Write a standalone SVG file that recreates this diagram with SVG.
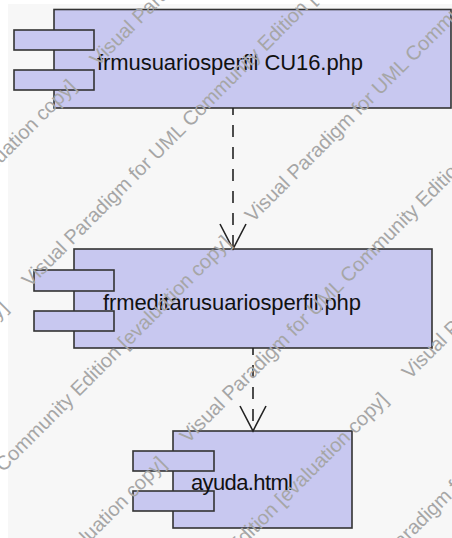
<svg xmlns="http://www.w3.org/2000/svg" width="452" height="538" viewBox="0 0 452 538">
<style>
.bg{fill:#f7f7f7}
.body{fill:#c8c8f0;stroke:#333;stroke-width:1.6}
.lbl{font-family:"Liberation Sans",Arial,sans-serif;font-size:22px;fill:#111}
.dep{fill:none;stroke:#222;stroke-width:1.6;stroke-dasharray:12 10;stroke-dashoffset:5}
.head{fill:none;stroke:#222;stroke-width:1.6}
.wm{font-family:"Liberation Sans",Arial,sans-serif;font-size:20px;fill:#a6a6a6}
</style>
<rect x="0" y="0" width="452" height="538" fill="#ffffff"/>
<rect class="bg" x="8" y="4" width="444" height="534"/>
<g id="node-frmusuariosperfil">
<rect class="body" x="54" y="9.5" width="397" height="98.5"/>
<rect class="body" x="14" y="30" width="80" height="20"/>
<rect class="body" x="14" y="70" width="80" height="20"/>
<text class="lbl" x="97" y="70" textLength="266" lengthAdjust="spacing">frmusuariosperfil CU16.php</text>
</g>
<g id="node-frmeditarusuariosperfil">
<rect class="body" x="74" y="249" width="358" height="99"/>
<rect class="body" x="34" y="270" width="80" height="21"/>
<rect class="body" x="34" y="311" width="80" height="20"/>
<text class="lbl" x="103" y="309.5" textLength="258" lengthAdjust="spacing">frmeditarusuariosperfil.php</text>
</g>
<g id="node-ayuda">
<rect class="body" x="173" y="431" width="179" height="97"/>
<rect class="body" x="133" y="451" width="81" height="20"/>
<rect class="body" x="133" y="491" width="81" height="20"/>
<text class="lbl" x="191" y="489.5" textLength="102" lengthAdjust="spacing">ayuda.html</text>
</g>
<g id="connectors">
<line class="dep" x1="233" y1="108" x2="233" y2="248"/>
<polyline class="head" points="220,224 233,249 246,224"/>
<line class="dep" x1="253" y1="348" x2="253" y2="430"/>
<polyline class="head" points="240,406 253,431 266,406"/>
</g>
<g id="watermark">
<text class="wm" transform="translate(-312,477) rotate(-45)">Visual Paradigm for UML Community Edition [evaluation copy]</text>
<text class="wm" transform="translate(98,67) rotate(-45)">Visual Paradigm for UML Community Edition [evaluation copy]</text>
<text class="wm" transform="translate(-380,698) rotate(-45)">Visual Paradigm for UML Community Edition [evaluation copy]</text>
<text class="wm" transform="translate(30,288) rotate(-45)">Visual Paradigm for UML Community Edition [evaluation copy]</text>
<text class="wm" transform="translate(-157,633) rotate(-45)">Visual Paradigm for UML Community Edition [evaluation copy]</text>
<text class="wm" transform="translate(253,223) rotate(-45)">Visual Paradigm for UML Community Edition [evaluation copy]</text>
<text class="wm" transform="translate(-222,854) rotate(-45)">Visual Paradigm for UML Community Edition [evaluation copy]</text>
<text class="wm" transform="translate(188,444) rotate(-45)">Visual Paradigm for UML Community Edition [evaluation copy]</text>
<text class="wm" transform="translate(0,790) rotate(-45)">Visual Paradigm for UML Community Edition [evaluation copy]</text>
<text class="wm" transform="translate(410,380) rotate(-45)">Visual Paradigm for UML Community Edition [evaluation copy]</text>
<text class="wm" transform="translate(350,600) rotate(-45)">Visual Paradigm for UML Community Edition [evaluation copy]</text>
</g>
</svg>
